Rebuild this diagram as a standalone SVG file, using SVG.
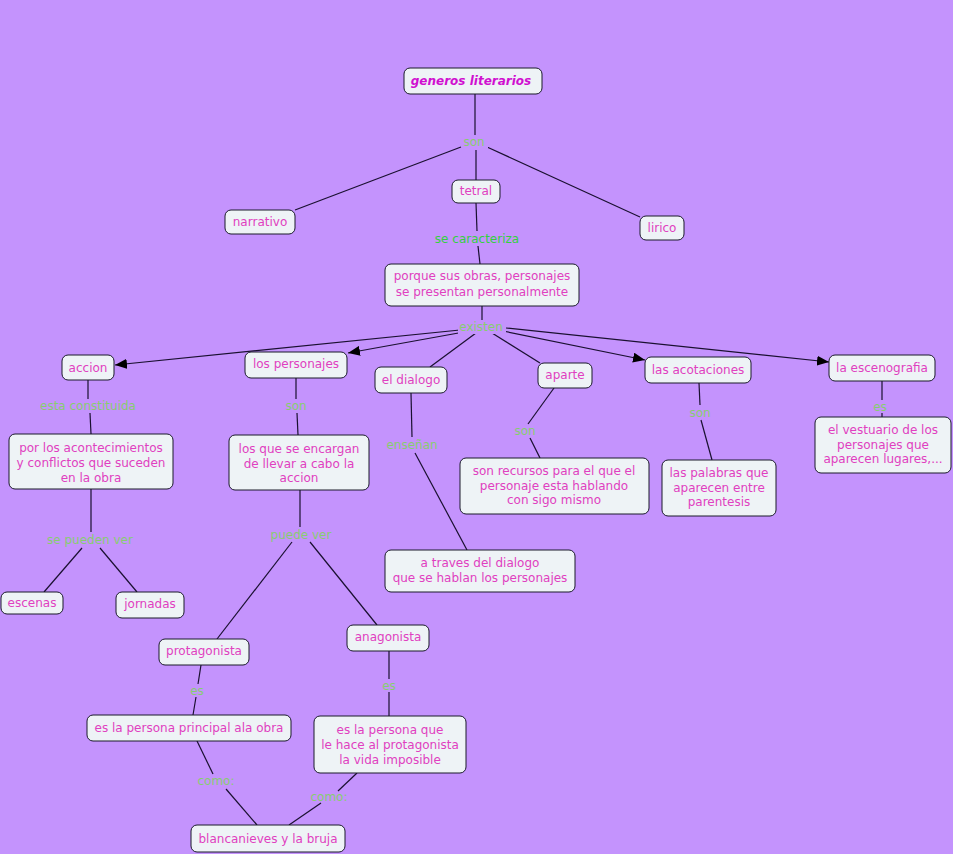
<svg xmlns="http://www.w3.org/2000/svg" width="953" height="854" viewBox="0 0 953 854">
<defs>
<marker id="arr" viewBox="0 0 12 10" refX="12" refY="5" markerWidth="12" markerHeight="10" markerUnits="userSpaceOnUse" orient="auto">
<path d="M0,0 L12,5 L0,10 z" fill="#000"/>
</marker>
<style>
.n rect{fill:#eef3f6;stroke:#1a1a2a;stroke-width:1;}
.n text{font-family:"DejaVu Sans",Verdana,sans-serif;font-size:12px;fill:#e040c0;text-anchor:middle;}
.t text{font-weight:bold;font-style:italic;fill:#d010d0;font-size:12px;}
.c line{stroke:#1a1030;stroke-width:1.2;}
.c line.a{marker-end:url(#arr);}
.l{font-family:"DejaVu Sans",Verdana,sans-serif;font-size:12px;fill:#88cc70;text-anchor:middle;}
.l2{fill:#33d040;}
</style>
</defs>
<rect width="953" height="854" fill="#c493fd"/>
<g id="connectors" class="c">
<line x1="475" y1="94" x2="475" y2="135"/>
<line x1="461" y1="147" x2="295" y2="210"/>
<line x1="476" y1="150" x2="476" y2="180"/>
<line x1="487" y1="147" x2="640" y2="217"/>
<line x1="476" y1="203" x2="477" y2="231"/>
<line x1="478" y1="246" x2="480" y2="264"/>
<line x1="482" y1="306" x2="482" y2="320"/>
<line class="a" x1="460" y1="330" x2="115" y2="365"/>
<line class="a" x1="464" y1="332" x2="348" y2="353"/>
<line x1="476" y1="333" x2="430" y2="367"/>
<line x1="492" y1="333" x2="540" y2="363"/>
<line class="a" x1="503" y1="331" x2="645" y2="360"/>
<line class="a" x1="506" y1="328" x2="829" y2="362"/>
<line x1="88" y1="380" x2="88" y2="399"/>
<line x1="90" y1="413" x2="91" y2="434"/>
<line x1="296" y1="378" x2="296" y2="399"/>
<line x1="297" y1="413" x2="298" y2="435"/>
<line x1="411" y1="393" x2="412" y2="437"/>
<line x1="415" y1="453" x2="467" y2="550"/>
<line x1="554" y1="388" x2="528" y2="424"/>
<line x1="530" y1="438" x2="540" y2="458"/>
<line x1="699" y1="383" x2="700" y2="405"/>
<line x1="701" y1="420" x2="712" y2="460"/>
<line x1="882" y1="381" x2="882" y2="400"/>
<line x1="882" y1="413" x2="882" y2="417"/>
<line x1="91" y1="489" x2="91" y2="532"/>
<line x1="82" y1="548" x2="44" y2="592"/>
<line x1="100" y1="548" x2="137" y2="592"/>
<line x1="300" y1="490" x2="300" y2="527"/>
<line x1="292" y1="542" x2="217" y2="639"/>
<line x1="310" y1="542" x2="377" y2="625"/>
<line x1="201" y1="665" x2="198" y2="684"/>
<line x1="196" y1="697" x2="193" y2="715"/>
<line x1="389" y1="651" x2="389" y2="679"/>
<line x1="389" y1="692" x2="389" y2="716"/>
<line x1="197" y1="741" x2="213" y2="774"/>
<line x1="226" y1="789" x2="257" y2="825"/>
<line x1="357" y1="773" x2="338" y2="791"/>
<line x1="321" y1="803" x2="289" y2="825"/>
</g>
<g id="labels">
<rect x="462" y="135" width="26" height="15" fill="#c493fd"/>
<text class="l" x="474" y="146">son</text>
<text class="l l2" x="477" y="243">se caracteriza</text>
<rect x="458" y="320" width="48" height="14" fill="#c493fd"/>
<text class="l" x="481" y="331">existen</text>
<text class="l" x="88" y="410">esta constituida</text>
<text class="l" x="296" y="410">son</text>
<text class="l" x="412" y="449">enseñan</text>
<text class="l" x="525" y="435">son</text>
<text class="l" x="700" y="417">son</text>
<text class="l" x="880" y="411">es</text>
<text class="l" x="90" y="544">se pueden ver</text>
<text class="l" x="301" y="539">puede ver</text>
<text class="l" x="197" y="695">es</text>
<text class="l" x="389" y="690">es</text>
<text class="l" x="216" y="785">como:</text>
<text class="l" x="329" y="801">como:</text>
</g>
<g id="n-generos" class="n t"><rect x="404" y="68" width="138" height="26" rx="6"/><text x="471" y="85">generos literarios</text></g>
<g id="n-narrativo" class="n"><rect x="225" y="210" width="70" height="24" rx="6"/><text x="260" y="226">narrativo</text></g>
<g id="n-tetral" class="n"><rect x="452" y="180" width="48" height="23" rx="6"/><text x="476" y="195">tetral</text></g>
<g id="n-lirico" class="n"><rect x="640" y="216" width="44" height="24" rx="6"/><text x="662" y="232">lirico</text></g>
<g id="n-porque" class="n"><rect x="385" y="264" width="194" height="42" rx="6"/><text x="482" y="280">porque sus obras, personajes</text><text x="482" y="296">se presentan personalmente</text></g>
<g id="n-accion" class="n"><rect x="62" y="355" width="52" height="25" rx="6"/><text x="88" y="372">accion</text></g>
<g id="n-personajes" class="n"><rect x="245" y="352" width="102" height="26" rx="6"/><text x="296" y="368">los personajes</text></g>
<g id="n-dialogo" class="n"><rect x="375" y="367" width="72" height="26" rx="6"/><text x="411" y="384">el dialogo</text></g>
<g id="n-aparte" class="n"><rect x="538" y="363" width="54" height="25" rx="6"/><text x="565" y="379">aparte</text></g>
<g id="n-acotaciones" class="n"><rect x="645" y="357" width="106" height="26" rx="6"/><text x="698" y="374">las acotaciones</text></g>
<g id="n-escenografia" class="n"><rect x="829" y="355" width="106" height="26" rx="6"/><text x="882" y="372">la escenografia</text></g>
<g id="n-acontecimientos" class="n"><rect x="9" y="434" width="164" height="55" rx="6"/><text x="91" y="452">por los acontecimientos</text><text x="91" y="467">y conflictos que suceden</text><text x="91" y="482">en la obra</text></g>
<g id="n-encargan" class="n"><rect x="229" y="435" width="140" height="55" rx="6"/><text x="299" y="453">los que se encargan</text><text x="299" y="468">de llevar a cabo la</text><text x="299" y="482">accion</text></g>
<g id="n-recursos" class="n"><rect x="460" y="458" width="189" height="56" rx="6"/><text x="554" y="475">son recursos para el que el</text><text x="554" y="490">personaje esta hablando</text><text x="554" y="504">con sigo mismo</text></g>
<g id="n-palabras" class="n"><rect x="662" y="460" width="114" height="56" rx="6"/><text x="719" y="477">las palabras que</text><text x="719" y="492">aparecen entre</text><text x="719" y="506">parentesis</text></g>
<g id="n-vestuario" class="n"><rect x="815" y="417" width="136" height="56" rx="6"/><text x="883" y="434">el vestuario de los</text><text x="883" y="449">personajes que</text><text x="883" y="463">aparecen lugares,...</text></g>
<g id="n-traves" class="n"><rect x="385" y="550" width="190" height="42" rx="6"/><text x="480" y="567">a traves del dialogo</text><text x="480" y="582">que se hablan los personajes</text></g>
<g id="n-escenas" class="n"><rect x="1" y="592" width="62" height="22" rx="6"/><text x="32" y="607">escenas</text></g>
<g id="n-jornadas" class="n"><rect x="116" y="592" width="68" height="26" rx="6"/><text x="150" y="608">jornadas</text></g>
<g id="n-protagonista" class="n"><rect x="159" y="639" width="90" height="26" rx="6"/><text x="204" y="655">protagonista</text></g>
<g id="n-anagonista" class="n"><rect x="347" y="625" width="82" height="26" rx="6"/><text x="388" y="641">anagonista</text></g>
<g id="n-principal" class="n"><rect x="87" y="715" width="204" height="26" rx="6"/><text x="189" y="732">es la persona principal ala obra</text></g>
<g id="n-imposible" class="n"><rect x="314" y="716" width="152" height="57" rx="6"/><text x="390" y="734">es la persona que</text><text x="390" y="749">le hace al protagonista</text><text x="390" y="764">la vida imposible</text></g>
<g id="n-blancanieves" class="n"><rect x="191" y="825" width="154" height="27" rx="6"/><text x="268" y="843">blancanieves y la bruja</text></g>
</svg>
